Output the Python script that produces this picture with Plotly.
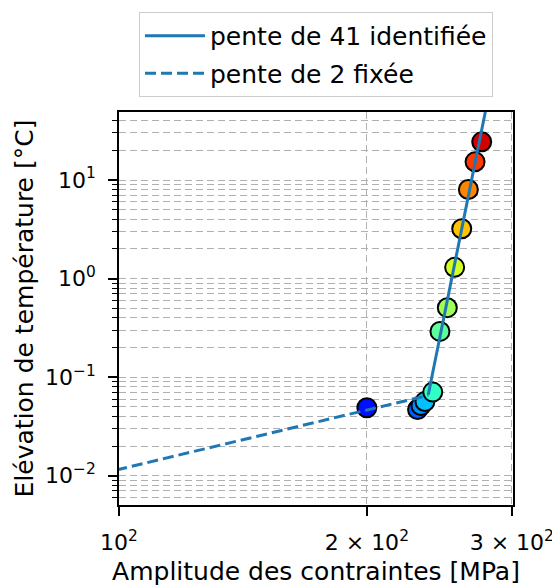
import plotly.graph_objects as go

# ---- data ----
stress = [200.0, 230.5, 232.7, 235.3, 240.5, 245.4, 250.5, 255.7, 260.8, 265.7, 270.7, 275.8]
temp = [0.0489, 0.0470, 0.0516, 0.0565, 0.0705, 0.291, 0.507, 1.30, 3.20, 8.01, 15.3, 24.4]
point_colors = ["#0010ff", "#0060ff", "#0090ff", "#00c0ff", "#30ffc6", "#5dff9a",
                "#a0ff56", "#d4ff23", "#ffc400", "#ff8400", "#ff3a00", "#d40000"]

fit41_x = [237.5, 285.0]
fit41_y = [0.0662, 125.7]
fit2_x = [95.0, 237.5]
fit2_y = [0.01047, 0.0654]

x_tickvals = [100, 200, 300]
x_ticktext = ["10<sup>2</sup>", "2 × 10<sup>2</sup>", "3 × 10<sup>2</sup>"]
y_tickvals = [0.01, 0.1, 1, 10]
y_ticktext = ["10<sup>−2</sup>", "10<sup>−1</sup>", "10<sup>0</sup>", "10<sup>1</sup>"]
y_minor = [m * 10.0 ** e for e in range(-3, 2) for m in range(2, 10)]

label_41 = "pente de 41 identifiée"
label_2 = "pente de 2 fixée"
x_title = "Amplitude des contraintes [MPa]"
y_title = "Elévation de température [°C]"

C0 = "#1f77b4"
GRID = "#b0b0b0"

fig = go.Figure()
fig.add_trace(go.Scatter(
    x=stress, y=temp, mode="markers", showlegend=False,
    marker=dict(size=19, color=point_colors, line=dict(color="black", width=2)),
))
fig.add_trace(go.Scatter(
    x=fit41_x, y=fit41_y, mode="lines", name=label_41, legendgroup="a",
    line=dict(color=C0, width=3),
))
fig.add_trace(go.Scatter(
    x=fit2_x, y=fit2_y, mode="lines", name=label_2, legendgroup="b",
    line=dict(color=C0, width=3, dash="11px,5px"),
))

axis_common = dict(
    type="log", showline=True, linecolor="black", linewidth=1.6, mirror=True,
    ticks="outside", ticklen=9, tickwidth=1.5, tickcolor="black",
    showgrid=True, gridcolor=GRID, griddash="7px,4px", gridwidth=1,
    zeroline=False, tickfont=dict(size=22, color="black"),
)

# page body has an 8px default margin: figure is shifted accordingly
fig.update_layout(
    width=552, height=579,
    margin=dict(l=111, r=47, t=104, b=82, autoexpand=False),
    paper_bgcolor="white", plot_bgcolor="white",
    font=dict(family="DejaVu Sans", color="black"),
    xaxis=dict(
        **axis_common, range=[2.0, 2.4786], tickmode="array",
        tickvals=x_tickvals, ticktext=x_ticktext, ticklabelstandoff=8,
        title=dict(text=x_title, font=dict(size=25), standoff=8),
    ),
    yaxis=dict(
        **axis_common, range=[-2.297, 1.69], tickmode="array",
        tickvals=y_tickvals, ticktext=y_ticktext, ticklabelstandoff=8,
        minor=dict(tickmode="array", tickvals=y_minor, ticks="outside", ticklen=5,
                   tickwidth=1.2, tickcolor="black", showgrid=True,
                   gridcolor=GRID, griddash="7px,4px", gridwidth=1),
        title=dict(text=y_title, font=dict(size=25), standoff=4),
    ),
    legend=dict(
        x=0.5, xanchor="center", y=1.2545, yanchor="top",
        bgcolor="white", bordercolor="#cccccc", borderwidth=1,
        font=dict(size=25), tracegroupgap=2, itemwidth=60,
    ),
)

fig.write_html("out.html")
